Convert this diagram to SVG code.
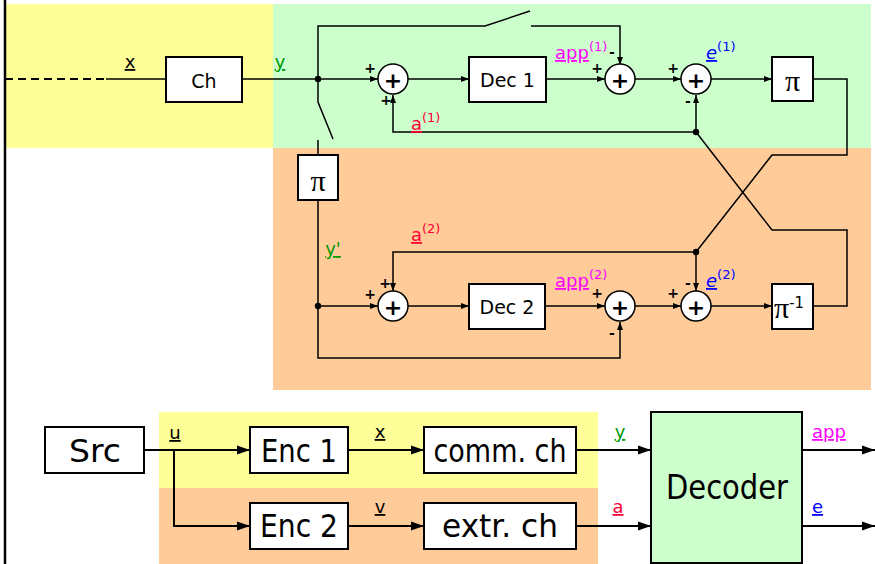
<svg xmlns="http://www.w3.org/2000/svg" width="875" height="564" viewBox="0 0 875 564">
<defs>
<marker id="as" markerUnits="userSpaceOnUse" markerWidth="8" markerHeight="6" refX="8" refY="3" orient="auto"><path d="M0,0 L8,3 L0,6 z" fill="#000"/></marker>
<marker id="al" markerUnits="userSpaceOnUse" markerWidth="13" markerHeight="10" refX="13" refY="5" orient="auto"><path d="M0,0.5 L13,5 L0,9.5 z" fill="#000"/></marker>
</defs>
<style>
.t{font-family:"DejaVu Sans","Open Sans",sans-serif;fill:#000}
.pi{font-family:"Liberation Serif","DejaVu Serif",serif;fill:#000}
.box{fill:#fff;stroke:#000;stroke-width:2}
.sum{fill:#fff;stroke:#000;stroke-width:1.5}
.w{fill:none;stroke:#000;stroke-width:1.5}
.wb{fill:none;stroke:#000;stroke-width:2}
.sgn{font-family:"DejaVu Sans",sans-serif;font-weight:bold;font-size:14px;text-anchor:middle;dominant-baseline:central}
.plus{font-family:"DejaVu Sans",sans-serif;font-weight:bold;font-size:22px;text-anchor:middle;dominant-baseline:central}
.lbl{font-family:"DejaVu Sans","Open Sans",sans-serif;font-size:18px}
.u{text-decoration:underline}
.sup{font-size:13px}
</style>
<!-- background regions -->
<rect x="5" y="4" width="268" height="144" fill="#ffff99"/>
<rect x="273" y="4" width="598" height="144" fill="#ccffcc"/>
<rect x="273" y="148" width="598" height="242" fill="#ffcc99"/>
<rect x="159" y="412" width="439" height="76" fill="#ffff99"/>
<rect x="159" y="488" width="439" height="76" fill="#ffcc99"/>
<line x1="5" y1="0" x2="5" y2="564" stroke="#000" stroke-width="2.5"/>

<g id="connectors">
<path class="wb" d="M5 79 H106" stroke-dasharray="8,5"/>
<path class="w" d="M106 79 H166"/>
<path class="w" d="M242 79 H318"/>
<path class="w" d="M318 79 H378" marker-end="url(#as)"/>
<path class="w" d="M318 79 V26 H485 L530 11"/>
<path class="w" d="M531 26 H620 V65" marker-end="url(#as)"/>
<path class="w" d="M318 79 V102 L333 139"/>
<path class="w" d="M318 140 V155"/>
<path class="w" d="M408 79 H469" marker-end="url(#as)"/>
<path class="w" d="M546 79 H605" marker-end="url(#as)"/>
<path class="w" d="M635 79 H681" marker-end="url(#as)"/>
<path class="w" d="M711 79 H772" marker-end="url(#as)"/>
<path class="w" d="M813 79 H847 V155 H772 L696 252"/>
<path class="w" d="M696 132 V95" marker-end="url(#as)"/>
<path class="w" d="M696 132 H393 V95" marker-end="url(#as)"/>
<path class="w" d="M696 132 L772 230 H847 V306 H813"/>
<path class="w" d="M696 252 H393 V291" marker-end="url(#as)"/>
<path class="w" d="M696 252 V291" marker-end="url(#as)"/>
<path class="w" d="M318 200 V358 H620 V322" marker-end="url(#as)"/>
<path class="w" d="M318 306 H378" marker-end="url(#as)"/>
<path class="w" d="M408 306 H469" marker-end="url(#as)"/>
<path class="w" d="M545 306 H605" marker-end="url(#as)"/>
<path class="w" d="M635 306 H681" marker-end="url(#as)"/>
<path class="w" d="M711 306 H772" marker-end="url(#as)"/>
<circle cx="318" cy="79" r="3.2" fill="#000"/>
<circle cx="696" cy="132" r="3.2" fill="#000"/>
<circle cx="696" cy="252" r="3.2" fill="#000"/>
<circle cx="318" cy="306" r="3.2" fill="#000"/>
<!-- bottom -->
<path class="wb" d="M144 450 H250" marker-end="url(#al)"/>
<path class="wb" d="M174 450 V526 H250" marker-end="url(#al)"/>
<path class="wb" d="M348 450 H424" marker-end="url(#al)"/>
<path class="wb" d="M348 526 H424" marker-end="url(#al)"/>
<path class="wb" d="M576 450 H651" marker-end="url(#al)"/>
<path class="wb" d="M576 526 H651" marker-end="url(#al)"/>
<path class="wb" d="M802 450 H875" marker-end="url(#al)"/>
<path class="wb" d="M802 526 H875" marker-end="url(#al)"/>
</g>

<g id="labels">
<text class="lbl u" x="130" y="68" text-anchor="middle">x</text>
<text class="lbl u" x="280" y="68" text-anchor="middle" fill="#009900">y</text>
<text class="lbl" x="555" y="59" fill="#ff00ff"><tspan class="u">app</tspan><tspan class="sup" dy="-8">(1)</tspan></text>
<text class="lbl" x="706" y="59" fill="#0000ff" font-style="italic"><tspan class="u">e</tspan><tspan class="sup" dy="-8" font-style="normal">(1)</tspan></text>
<text class="lbl" x="411" y="130" fill="#ff0033"><tspan class="u">a</tspan><tspan class="sup" dy="-8">(1)</tspan></text>
<text class="lbl u" x="333" y="255" text-anchor="middle" fill="#009900">y'</text>
<text class="lbl" x="411" y="241" fill="#ff0033"><tspan class="u">a</tspan><tspan class="sup" dy="-8">(2)</tspan></text>
<text class="lbl" x="555" y="287" fill="#ff00ff"><tspan class="u">app</tspan><tspan class="sup" dy="-8">(2)</tspan></text>
<text class="lbl" x="706" y="287" fill="#0000ff" font-style="italic"><tspan class="u">e</tspan><tspan class="sup" dy="-8" font-style="normal">(2)</tspan></text>
<text class="sgn" x="370" y="68">+</text>
<text class="sgn" x="386" y="100">+</text>
<text class="sgn" x="597" y="68">+</text>
<text class="sgn" x="612" y="52">-</text>
<text class="sgn" x="673" y="68">+</text>
<text class="sgn" x="688" y="101">-</text>
<text class="sgn" x="370" y="294">+</text>
<text class="sgn" x="385" y="283">+</text>
<text class="sgn" x="597" y="293">+</text>
<text class="sgn" x="612" y="333">-</text>
<text class="sgn" x="673" y="293">+</text>
<text class="sgn" x="688" y="283">-</text>
<text class="lbl u" x="175" y="439" text-anchor="middle">u</text>
<text class="lbl u" x="380" y="438" text-anchor="middle">x</text>
<text class="lbl u" x="380" y="513" text-anchor="middle">v</text>
<text class="lbl u" x="620" y="438" text-anchor="middle" fill="#009900">y</text>
<text class="lbl u" x="618" y="513" text-anchor="middle" fill="#ff0033">a</text>
<text class="lbl u" x="812" y="438" fill="#ff00ff">app</text>
<text class="lbl u" x="812" y="513" fill="#0000ff">e</text>
</g>

<g id="ch"><rect class="box" x="166" y="57" width="76" height="45"/><text class="t" x="204" y="88" font-size="19" text-anchor="middle">Ch</text></g>
<g id="sum1"><circle class="sum" cx="393" cy="79" r="15"/><text class="plus" x="393" y="80">+</text></g>
<g id="dec1"><rect class="box" x="469" y="57" width="77" height="45"/><text class="t" x="507.5" y="87" font-size="19" text-anchor="middle">Dec 1</text></g>
<g id="sum2"><circle class="sum" cx="620" cy="79" r="15"/><text class="plus" x="620" y="80">+</text></g>
<g id="sum3"><circle class="sum" cx="696" cy="79" r="15"/><text class="plus" x="696" y="80">+</text></g>
<g id="pi1"><rect class="box" x="772" y="57" width="41" height="44"/><text class="pi" x="792.5" y="91" font-size="30" text-anchor="middle">π</text></g>
<g id="pi2"><rect class="box" x="298" y="155" width="40" height="45"/><text class="pi" x="318" y="191" font-size="30" text-anchor="middle">π</text></g>
<g id="sum4"><circle class="sum" cx="393" cy="306" r="15"/><text class="plus" x="393" y="307">+</text></g>
<g id="dec2"><rect class="box" x="469" y="284" width="76" height="45"/><text class="t" x="507" y="314" font-size="19" text-anchor="middle">Dec 2</text></g>
<g id="sum5"><circle class="sum" cx="620" cy="306" r="15"/><text class="plus" x="620" y="307">+</text></g>
<g id="sum6"><circle class="sum" cx="696" cy="306" r="15"/><text class="plus" x="696" y="307">+</text></g>
<g id="piinv"><rect class="box" x="772" y="284" width="41" height="45"/><text class="pi" x="774" y="318" font-size="30">π<tspan font-family="DejaVu Sans,sans-serif" font-size="15" dy="-10">-1</tspan></text></g>

<g id="src"><rect class="box" x="45" y="427" width="99" height="46"/><text class="t" x="95" y="462" font-size="32" text-anchor="middle" textLength="52" lengthAdjust="spacingAndGlyphs">Src</text></g>
<g id="enc1"><rect class="box" x="250" y="427" width="98" height="46"/><text class="t" x="299" y="462" font-size="32" text-anchor="middle" textLength="76" lengthAdjust="spacingAndGlyphs">Enc 1</text></g>
<g id="enc2"><rect class="box" x="250" y="503" width="98" height="46"/><text class="t" x="299" y="537" font-size="32" text-anchor="middle" textLength="78" lengthAdjust="spacingAndGlyphs">Enc 2</text></g>
<g id="comm"><rect class="box" x="424" y="427" width="152" height="46"/><text class="t" x="500" y="462" font-size="32" text-anchor="middle" textLength="133" lengthAdjust="spacingAndGlyphs">comm. ch</text></g>
<g id="extr"><rect class="box" x="424" y="503" width="152" height="46"/><text class="t" x="500" y="537" font-size="32" text-anchor="middle" textLength="116" lengthAdjust="spacingAndGlyphs">extr. ch</text></g>
<g id="decoder"><rect x="651" y="412" width="151" height="151" fill="#ccffcc" stroke="#000" stroke-width="2"/><text class="t" x="727" y="499" font-size="33" text-anchor="middle" textLength="122" lengthAdjust="spacingAndGlyphs">Decoder</text></g>
</svg>
